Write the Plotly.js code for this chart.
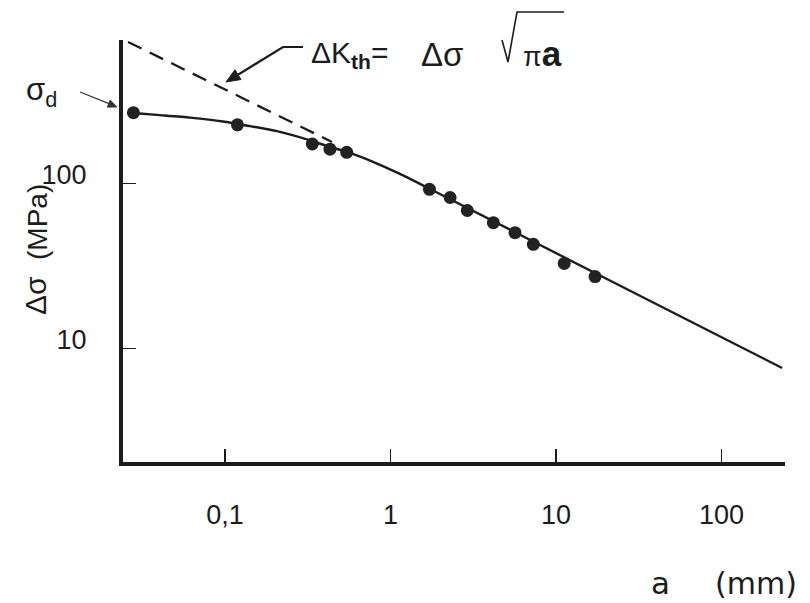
<!DOCTYPE html>
<html>
<head>
<meta charset="utf-8">
<script src="https://cdn.plot.ly/plotly-3.0.1.min.js"></script>
<style>html,body{margin:0;padding:0;background:#fff;}#chart{width:810px;height:603px;}</style>
</head>
<body>
<div id="chart"></div>
<script>
// ---- data (a in mm, delta sigma in MPa) ----
const a_obs  = [0.028, 0.119, 0.337, 0.431, 0.544, 1.72, 2.29, 2.91, 4.18, 5.65, 7.29, 11.2, 17.2];
const ds_obs = [268, 226, 173, 161, 154, 92, 82, 68.4, 57.7, 50.2, 42.7, 32.7, 27.2];

const a_curve  = [0.0279, 0.0405, 0.0615, 0.0973, 0.142, 0.206, 0.305, 0.431, 0.546, 0.784, 1.14, 1.71, 17.2, 232];
const ds_curve = [267, 259, 250, 237, 222, 207, 186, 166, 155, 135, 114, 93, 28.6, 7.6];

const a_kth  = [0.026, 0.443];
const ds_kth = [719, 178];

const xTickVals = [0.1, 1, 10, 100];
const xTickText = ['0,1', '1', '10', '100'];
const yTickVals = [10, 100];
const yTickText = ['10', '100'];

// ---- layout geometry ----
const W = 810, H = 603;
const L = 123, R = 785, T = 40, B = 462;
const px = v => (v - L) / (R - L);
const py = v => (B - v) / (B - T);
const path = (pts, close) => pts.map((p, i) => (i ? 'L ' : 'M ') + px(p[0]) + ',' + py(p[1])).join(' ') + (close ? ' Z' : '');
const INK = '#1c1c1c';
const SANS = '"Liberation Sans", Arial, sans-serif';

const traces = [
  {x: a_kth, y: ds_kth, mode: 'lines', type: 'scatter',
   line: {color: INK, width: 2.3, dash: '15px,9px'}, hoverinfo: 'skip'},
  {x: a_curve, y: ds_curve, mode: 'lines', type: 'scatter',
   line: {color: INK, width: 2.4, shape: 'spline', smoothing: 0.6}, hoverinfo: 'skip'},
  {x: a_obs, y: ds_obs, mode: 'markers', type: 'scatter',
   marker: {color: '#222', size: 13, line: {width: 0}}}
];

const layout = {
  width: W, height: H,
  margin: {l: L, r: W - R, t: T, b: H - B, pad: 0},
  paper_bgcolor: '#fff', plot_bgcolor: '#fff',
  showlegend: false,
  xaxis: {
    type: 'log', range: [-1.6157, 2.3828],
    showline: true, linewidth: 4, linecolor: INK,
    showgrid: false, zeroline: false,
    ticks: 'inside', ticklen: 13, tickwidth: 1.5, tickcolor: INK,
    tickvals: xTickVals, ticktext: xTickText,
    tickfont: {family: SANS, size: 27, color: INK},
    ticklabelstandoff: 26
  },
  yaxis: {
    type: 'log', range: [0.3109, 2.8685],
    showline: true, linewidth: 4, linecolor: INK,
    showgrid: false, zeroline: false,
    ticks: 'inside', ticklen: 13, tickwidth: 1.5, tickcolor: INK,
    tickvals: yTickVals, ticktext: yTickText,
    tickfont: {family: SANS, size: 27, color: INK},
    ticklabelshift: -9,
    ticklabelstandoff: 27
  },
  shapes: [
    // radical sign
    {type: 'path', xref: 'paper', yref: 'paper', path: path([[502,40],[508,62],[517,12],[564,12]]),
     line: {color: INK, width: 1.6}},
    // equation pointer
    {type: 'path', xref: 'paper', yref: 'paper', path: path([[303,47],[283,47],[238,74.7]]),
     line: {color: INK, width: 2.2}},
    {type: 'path', xref: 'paper', yref: 'paper', path: path([[226,82],[241,79.5],[235,69.8]], true),
     fillcolor: INK, line: {color: INK, width: 1}},
    // sigma_d pointer
    {type: 'path', xref: 'paper', yref: 'paper', path: path([[80,92],[109,103.6]]),
     line: {color: '#333', width: 1.2}},
    {type: 'path', xref: 'paper', yref: 'paper', path: path([[117,107],[107.2,107.2],[110.2,100]], true),
     fillcolor: '#333', line: {color: '#333', width: 0.8}}
  ],
  annotations: [
    // y-axis title
    {xref: 'paper', yref: 'paper', x: px(35), y: py(296), text: 'Δσ', textangle: -90,
     showarrow: false, font: {family: SANS, size: 30, color: INK}, xanchor: 'center', yanchor: 'middle'},
    {xref: 'paper', yref: 'paper', x: px(37), y: py(222), text: '(MPa)', textangle: -90,
     showarrow: false, font: {family: SANS, size: 28, color: INK}, xanchor: 'center', yanchor: 'middle'},
    // x-axis title
    {xref: 'paper', yref: 'paper', x: px(660), y: py(583), text: 'a',
     showarrow: false, font: {family: '"DejaVu Sans", sans-serif', size: 31, color: INK}, xanchor: 'center', yanchor: 'middle'},
    {xref: 'paper', yref: 'paper', x: px(756), y: py(583), text: '(mm)',
     showarrow: false, font: {family: '"DejaVu Sans", sans-serif', size: 30, color: INK}, xanchor: 'center', yanchor: 'middle'},
    // sigma_d label
    {xref: 'paper', yref: 'paper', x: px(24), y: py(92), text: 'σ<sub>d</sub>',
     showarrow: false, font: {family: SANS, size: 31, color: INK}, xanchor: 'left', yanchor: 'middle'},
    // threshold equation
    {xref: 'paper', yref: 'paper', x: px(309), y: py(55), text: 'ΔK<sub><b>th</b></sub>=',
     showarrow: false, font: {family: SANS, size: 30, color: INK}, xanchor: 'left', yanchor: 'middle'},
    {xref: 'paper', yref: 'paper', x: px(419), y: py(54), text: 'Δσ',
     showarrow: false, font: {family: SANS, size: 33, color: INK}, xanchor: 'left', yanchor: 'middle'},
    {xref: 'paper', yref: 'paper', x: px(521), y: py(53), text: '<span style="font-size:27px">π</span><b>a</b>',
     showarrow: false, font: {family: SANS, size: 35, color: INK}, xanchor: 'left', yanchor: 'middle'}
  ]
};

Plotly.newPlot('chart', traces, layout, {displayModeBar: false, staticPlot: true});
</script>
</body>
</html>
